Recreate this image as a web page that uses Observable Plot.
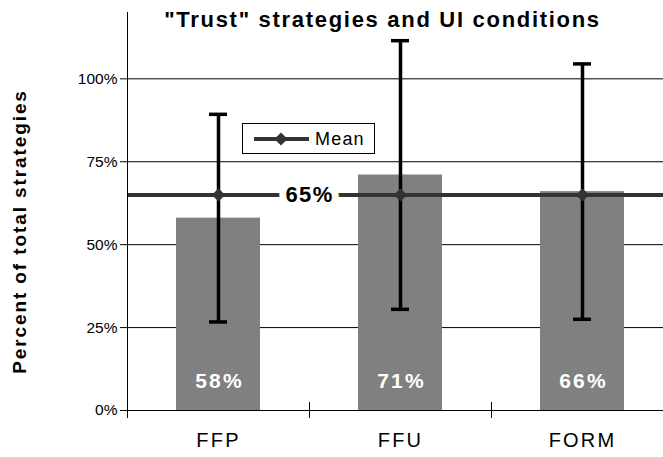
<!DOCTYPE html>
<html>
<head>
<meta charset="utf-8">
<script src="https://cdn.jsdelivr.net/npm/d3@7"></script>
<script src="https://cdn.jsdelivr.net/npm/@observablehq/plot@0.6"></script>
<style>
  html, body { margin: 0; padding: 0; background: #fff; }
  svg { font-family: "Liberation Sans", Arial, sans-serif; }
  .ttl text { letter-spacing: 1.7px; }
  .ylab text { letter-spacing: 1.9px; }
  .xlab text { letter-spacing: 2.2px; }
  .barlab text { letter-spacing: 2.2px; }
  .meanlab text { letter-spacing: 1.4px; }
</style>
</head>
<body>
<div id="chart"></div>
<script>
const title = '"Trust" strategies and UI conditions';
const yLabel = "Percent of total strategies";
const categories = ["FFP", "FFU", "FORM"];
const values = [0.58, 0.71, 0.66];
const errors = [0.313, 0.405, 0.385];
const meanValue = 0.65;
const yTicks = [0, 0.25, 0.5, 0.75, 1.0];
const legendLabel = "Mean";

const data = categories.map((c, i) => ({
  cat: c, value: values[i], lo: values[i] - errors[i], hi: values[i] + errors[i], mean: meanValue
}));
const pct = d3.format(".0%");

const plot = Plot.plot({
  width: 663,
  height: 457,
  marginLeft: 127,
  marginRight: 0,
  marginTop: 12,
  marginBottom: 47,
  style: { fontFamily: '"Liberation Sans", Arial, sans-serif', fontSize: "15px", color: "#000", background: "#fff" },
  x: { domain: categories, range: [127, 673], paddingInner: 0.54, paddingOuter: 0.27, label: null },
  y: { domain: [0, 1.2], ticks: yTicks, tickFormat: pct, label: null },
  marks: [
    Plot.ruleY(yTicks.filter(d => d > 0), { stroke: "#000", strokeWidth: 1 }),
    Plot.barY(data, { x: "cat", y: "value", fill: "#808080" }),
    // mean line
    Plot.ruleY([meanValue], { stroke: "#333", strokeWidth: 4 }),
    // error bars
    Plot.ruleX(data, { x: "cat", y1: "lo", y2: "hi", stroke: "#000", strokeWidth: 3.5 }),
    Plot.tickY(data, { x: "cat", y: "hi", stroke: "#000", strokeWidth: 3.5, insetLeft: 33, insetRight: 33 }),
    Plot.tickY(data, { x: "cat", y: "lo", stroke: "#000", strokeWidth: 3.5, insetLeft: 33, insetRight: 33 }),
    // mean markers
    Plot.dot(data, { x: "cat", y: "mean", symbol: "diamond2", r: 6, fill: "#333", stroke: "none" }),
    // mean label
    Plot.text([meanValue], { x: () => categories[0], y: d => d, text: d => pct(d), dx: 91, className: "meanlab",
      fontWeight: "bold", fontSize: 22, fill: "#000", stroke: "#fff", strokeWidth: 14, strokeLinejoin: "miter" }),
    // bar value labels
    Plot.text(data, { x: "cat", y: 0, text: d => pct(d.value), dx: 1, dy: -29, className: "barlab", fill: "#fff", fontWeight: "bold", fontSize: 21 }),
    // axes
    Plot.axisY({ ticks: yTicks, tickFormat: pct, tickSize: 7, tickPadding: 3, fontSize: 15.5, label: null }),
    Plot.axisX({ tickSize: 0, tickPadding: 22, fontSize: 20, className: "xlab", label: null }),
    Plot.axisX({ tickSize: 8, dx: -91, text: null, label: null }),
    Plot.axisX({ tickSize: -8, dx: -91, text: null, label: null }),
    Plot.ruleY([0], { stroke: "#000", strokeWidth: 1 }),
    Plot.frame({ anchor: "left", stroke: "#000" }),
    // title
    Plot.text([title], { frameAnchor: "top", dx: -13, dy: 7, lineAnchor: "middle", className: "ttl", fontWeight: "bold", fontSize: 22, fill: "#000" }),
    // y label
    Plot.text([yLabel], { frameAnchor: "left", textAnchor: "middle", rotate: -90, dx: -108, dy: 20, className: "ylab", fontWeight: "bold", fontSize: 19, fill: "#000" })
  ]
});

// legend box drawn inside plot area
const svg = d3.select(plot);
const lg = svg.append("g").attr("class", "legend");
lg.append("rect").attr("x", 242.5).attr("y", 123.5).attr("width", 132).attr("height", 30)
  .attr("fill", "#fff").attr("stroke", "#000").attr("stroke-width", 1);
lg.append("line").attr("x1", 254).attr("x2", 309).attr("y1", 139).attr("y2", 139)
  .attr("stroke", "#333").attr("stroke-width", 4);
lg.append("path").attr("d", d3.symbol(d3.symbolDiamond2, 110)()).attr("transform", "translate(281,139)").attr("fill", "#333");
lg.append("text").attr("x", 315).attr("y", 139).attr("dy", "0.35em").attr("text-anchor", "start")
  .attr("font-size", 18).attr("letter-spacing", "1.2px").attr("fill", "#000").text(legendLabel);

document.getElementById("chart").append(plot);
</script>
</body>
</html>
